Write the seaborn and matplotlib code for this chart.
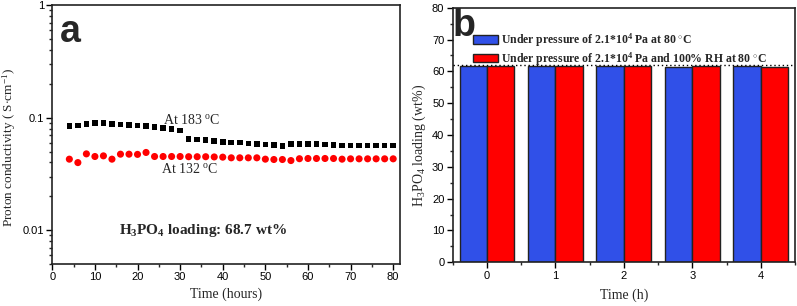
import numpy as np
import pandas as pd
import matplotlib
matplotlib.use("Agg")
import matplotlib.pyplot as plt
import matplotlib.ticker as mticker
import seaborn as sns

# ---------------- data ----------------
time_hours = [4, 6, 8, 10, 12, 14, 16, 18, 20, 22, 24, 26, 28, 30, 32, 34, 36, 38, 40,
              42, 44, 46, 48, 50, 52, 54, 56, 58, 60, 62, 64, 66, 68, 70, 72, 74, 76, 78, 80]
cond_183 = [0.084, 0.085, 0.088, 0.090, 0.0895, 0.088, 0.087, 0.086, 0.085, 0.084,
            0.0826, 0.081, 0.0795, 0.077, 0.065, 0.064, 0.0633, 0.062, 0.061,
            0.0603, 0.060, 0.059, 0.0585, 0.058, 0.057, 0.0563, 0.0582, 0.0582,
            0.0582, 0.0582, 0.058, 0.0575, 0.0566, 0.0566, 0.0566, 0.0566, 0.0566,
            0.0566, 0.0566]
cond_132 = [0.0428, 0.0399, 0.0477, 0.0452, 0.0458, 0.0428, 0.0474, 0.0474, 0.0472,
            0.0491, 0.0452, 0.0452, 0.0452, 0.0452, 0.0450, 0.0450, 0.0450, 0.0448,
            0.0446, 0.0440, 0.0440, 0.0440, 0.0440, 0.0428, 0.0425, 0.0425, 0.0416,
            0.0432, 0.0434, 0.0434, 0.0434, 0.0434, 0.0428, 0.0431, 0.0431, 0.0431,
            0.0431, 0.0431, 0.0431]

bar_times = [0, 1, 2, 3, 4]
loading_dry = [61.6, 61.6, 61.8, 61.4, 61.6]
loading_humid = [61.6, 61.8, 61.8, 61.6, 61.4]
reference_level = 61.9
legend_labels = [r"Under pressure of 2.1*10$^{\mathbf{4}}$ Pa at 80 $^{\circ}$C",
                 r"Under pressure of 2.1*10$^{\mathbf{4}}$ Pa and 100% RH at 80 $^{\circ}$C"]

# ---------------- style ----------------
sns.set_theme(style="ticks")
plt.rcParams["font.family"] = ["Liberation Sans", "DejaVu Sans"]
plt.rcParams["mathtext.fontset"] = "custom"
plt.rcParams["mathtext.rm"] = "Liberation Serif"
plt.rcParams["mathtext.it"] = "Liberation Serif:italic"
plt.rcParams["mathtext.bf"] = "Liberation Serif:bold"
plt.rcParams["axes.linewidth"] = 1.2
SERIF = ["Liberation Serif", "DejaVu Serif"]

fig = plt.figure(figsize=(7.97, 3.06), dpi=100)
W, H = 797, 306

def px_axes(l, t, r, b):
    return fig.add_axes([l / W, 1 - b / H, (r - l) / W, (b - t) / H])

# ---------------- panel a ----------------
axa = px_axes(52.3, 5.3, 400, 264)
df_a = pd.DataFrame({"t": time_hours, "c183": cond_183, "c132": cond_132})
sns.scatterplot(data=df_a, x="t", y="c183", ax=axa, marker="s", s=16,
                color="black", edgecolor="none", linewidth=0)
sns.scatterplot(data=df_a, x="t", y="c132", ax=axa, marker="o", s=26,
                color="#ff0000", edgecolor="none", linewidth=0)
axa.set_yscale("log")
axa.set_ylim(0.005, 1)
axa.set_xlim(0, 81.6)
axa.xaxis.set_major_locator(mticker.MultipleLocator(10))
axa.xaxis.set_minor_locator(mticker.MultipleLocator(5))
axa.yaxis.set_major_locator(mticker.FixedLocator([0.01, 0.1, 1]))
axa.yaxis.set_major_formatter(mticker.FixedFormatter(["0.01", "0.1", "1"]))
axa.yaxis.set_minor_locator(mticker.LogLocator(base=10, subs=np.arange(2, 10)))
axa.yaxis.set_minor_formatter(mticker.NullFormatter())
axa.set_xlabel("Time (hours)", family=SERIF, fontsize=10, labelpad=4)
axa.set_ylabel(r"Proton conductivity ( S$\cdot$cm$^{-1}$)", family=SERIF, fontsize=9.5)
axa.yaxis.set_label_coords(-0.1, 0.45)
axa.text(26.0, 0.0884, r"At 183 $^{\rm o}$C", family=SERIF, fontsize=10, ha="left", va="baseline")
axa.text(25.5, 0.0323, r"At 132 $^{\rm o}$C", family=SERIF, fontsize=10, ha="left", va="baseline")
axa.text(0.435, 0.115, r"H$_{\mathbf{3}}$PO$_{\mathbf{4}}$ loading: 68.7 wt%", transform=axa.transAxes,
         family=SERIF, fontsize=11, fontweight="bold", ha="center", va="baseline")
axa.text(0.022, 0.965, "a", transform=axa.transAxes, fontsize=27, fontweight="bold",
         ha="left", va="top")

# ---------------- panel b ----------------
axb = px_axes(452.7, 7.7, 795, 262.3)
df_b = pd.DataFrame({
    "time": bar_times * 2,
    "loading": loading_dry + loading_humid,
    "cond": [legend_labels[0]] * len(bar_times) + [legend_labels[1]] * len(bar_times),
})
sns.barplot(data=df_b, x="time", y="loading", hue="cond", ax=axb,
            palette=["#3050e8", "#ff0000"], width=0.8, edgecolor="#222222",
            linewidth=1.0, saturation=1, errorbar=None, native_scale=True)
axb.axhline(reference_level, ls=(0, (1, 2)), color="black", lw=1.0, zorder=5)
axb.set_xlim(-0.5, 4.5)
axb.set_ylim(0, 80)
axb.xaxis.set_major_locator(mticker.FixedLocator(bar_times))
axb.xaxis.set_major_formatter(mticker.FixedFormatter([str(t) for t in bar_times]))
axb.xaxis.set_minor_locator(mticker.FixedLocator([-0.5, 0.5, 1.5, 2.5, 3.5, 4.5]))
axb.yaxis.set_major_locator(mticker.MultipleLocator(10))
axb.yaxis.set_minor_locator(mticker.MultipleLocator(5))
axb.set_xlabel("Time (h)", family=SERIF, fontsize=10, labelpad=6)
axb.set_ylabel(r"H$_3$PO$_4$ loading (wt%)", family=SERIF, fontsize=10)
axb.yaxis.set_label_coords(-0.072, 0.46)
leg = axb.legend(loc="upper left", bbox_to_anchor=(0.058, 0.908), frameon=False,
                 prop={"family": SERIF, "weight": "bold", "size": 8.5},
                 handlelength=2.15, handleheight=0.78, handletextpad=0.3,
                 labelspacing=0.1, borderpad=0, borderaxespad=0)
axb.text(0.0, 1.0, "b", transform=axb.transAxes, fontsize=27, fontweight="bold",
         ha="left", va="top")

for ax in (axa, axb):
    ax.tick_params(axis="both", which="major", direction="out", length=4, width=1,
                   labelsize=8, pad=2, colors="black")
    ax.tick_params(axis="both", which="minor", direction="out", length=2.5, width=1)
    for sp in ax.spines.values():
        sp.set_visible(True)
        sp.set_color("#222222")
        sp.set_linewidth(1.2)

fig.savefig("out.png", dpi=100)
